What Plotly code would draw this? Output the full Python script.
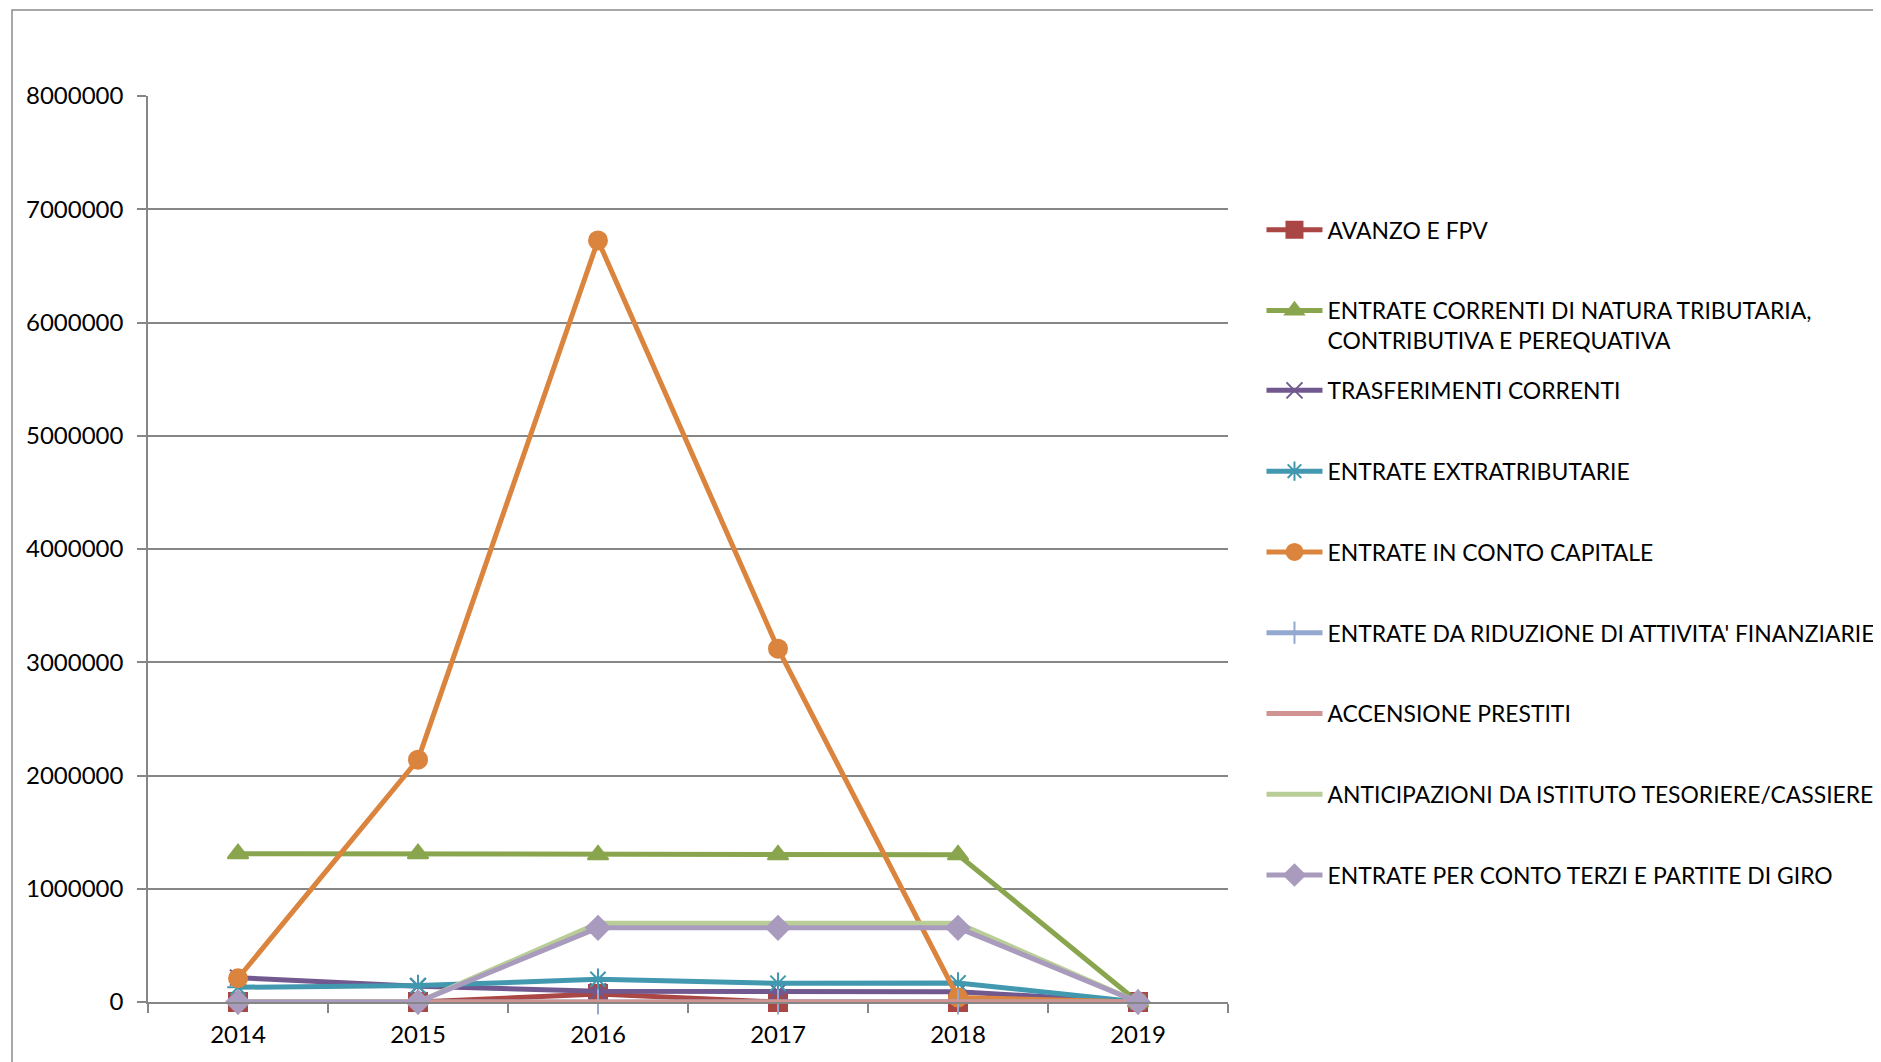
import plotly.graph_objects as go

years = ["2014", "2015", "2016", "2017", "2018", "2019"]

series_names = [
    "AVANZO E FPV",
    "ENTRATE CORRENTI DI NATURA TRIBUTARIA,<br>CONTRIBUTIVA E PEREQUATIVA",
    "TRASFERIMENTI CORRENTI",
    "ENTRATE EXTRATRIBUTARIE",
    "ENTRATE IN CONTO CAPITALE",
    "ENTRATE DA RIDUZIONE DI ATTIVITA' FINANZIARIE",
    "ACCENSIONE PRESTITI",
    "ANTICIPAZIONI DA ISTITUTO TESORIERE/CASSIERE",
    "ENTRATE PER CONTO TERZI E PARTITE DI GIRO",
]

avanzo_fpv = [0, 0, 70000, 0, 0, 0]
entrate_correnti = [1310000, 1310000, 1300000, 1300000, 1300000, 0]
trasferimenti_correnti = [215000, 140000, 95000, 90000, 90000, 0]
entrate_extratributarie = [130000, 145000, 200000, 165000, 168000, 0]
entrate_conto_capitale = [210000, 2140000, 6725000, 3120000, 40000, 0]
entrate_riduzione_attivita = [0, 0, 0, 0, 0, 0]
accensione_prestiti = [0, 0, 0, 0, 0, 0]
anticipazioni_tesoriere = [0, 0, 695000, 695000, 695000, 0]
entrate_conto_terzi = [0, 0, 655000, 655000, 655000, 0]

values = [
    avanzo_fpv, entrate_correnti, trasferimenti_correnti, entrate_extratributarie,
    entrate_conto_capitale, entrate_riduzione_attivita, accensione_prestiti,
    anticipazioni_tesoriere, entrate_conto_terzi,
]

colors = ["#AA4643", "#89A54E", "#71588F", "#4198AF", "#DB843D",
          "#93A9CF", "#D19392", "#B9CD96", "#A99BBD"]
symbols = ["square", "triangle-up", "x-thin", "asterisk", "circle",
           "line-ns", None, None, "diamond"]
sizes = [18, 18, 16, 18, 18, 18, 0, 0, 18]

FONT = "Lato"
GRID = "#868686"
LEG_FONT = dict(family=FONT, size=22.9, color="black")

fig = go.Figure()
for i, (name, vals) in enumerate(zip(series_names, values)):
    sym = symbols[i]
    mode = "lines+markers" if sym else "lines"
    marker = dict(symbol=sym, size=sizes[i], color=colors[i],
                  line=dict(color=colors[i], width=2)) if sym else None
    fig.add_trace(go.Scatter(
        x=years, y=vals, name=name, mode=mode,
        line=dict(color=colors[i], width=5),
        marker=marker, cliponaxis=False, legendgroup=f"g{i}",
        legend="legend" if i < 2 else "legend2",
    ))

# plot area (page pixels): x 148..1228, y 96..1002; page body has an 8px margin
L, T = 140, 88
PW, PH = 1080, 906

fig.update_layout(
    width=1881, height=1062,
    margin=dict(l=L, r=1881 - L - PW, t=T, b=1062 - T - PH, autoexpand=False),
    paper_bgcolor="white", plot_bgcolor="white",
    font=dict(family=FONT, size=24, color="black"),
    showlegend=True,
    legend=dict(
        x=1.031, xanchor="left", y=0.876, yanchor="top",
        font=LEG_FONT, tracegroupgap=48, valign="top", itemwidth=56,
        bgcolor="rgba(0,0,0,0)",
    ),
    legend2=dict(
        x=1.031, xanchor="left", y=0.6987, yanchor="top",
        font=LEG_FONT, tracegroupgap=48, valign="top", itemwidth=56,
        bgcolor="rgba(0,0,0,0)",
    ),
    xaxis=dict(
        type="category", tickson="boundaries", ticks="outside", ticklen=9,
        tickcolor=GRID, tickwidth=1.5, showline=True, linecolor=GRID, linewidth=1.5,
        showgrid=False, range=[-0.5, 5.5], tickfont=dict(size=24),
        zeroline=False, automargin=False, ticklabelstandoff=10,
    ),
    yaxis=dict(
        range=[0, 8000000], dtick=1000000, tickformat="d",
        ticks="outside", ticklen=9, tickcolor=GRID, tickwidth=1.5,
        showline=True, linecolor=GRID, linewidth=1.5,
        showgrid=True, gridcolor=GRID, gridwidth=1.5, zeroline=False,
        tickfont=dict(size=24), automargin=False, ticklabelstandoff=9,
    ),
    shapes=[dict(
        type="rect", xref="paper", yref="paper",
        x0=(4 - L) / PW, x1=(1900 - L) / PW,
        y0=-(1080 - T - PH) / PH, y1=(T + PH - 2) / PH,
        line=dict(color="#8c8c8c", width=1.5), fillcolor="rgba(0,0,0,0)",
        layer="below",
    )],
)

fig.write_html("out.html")
